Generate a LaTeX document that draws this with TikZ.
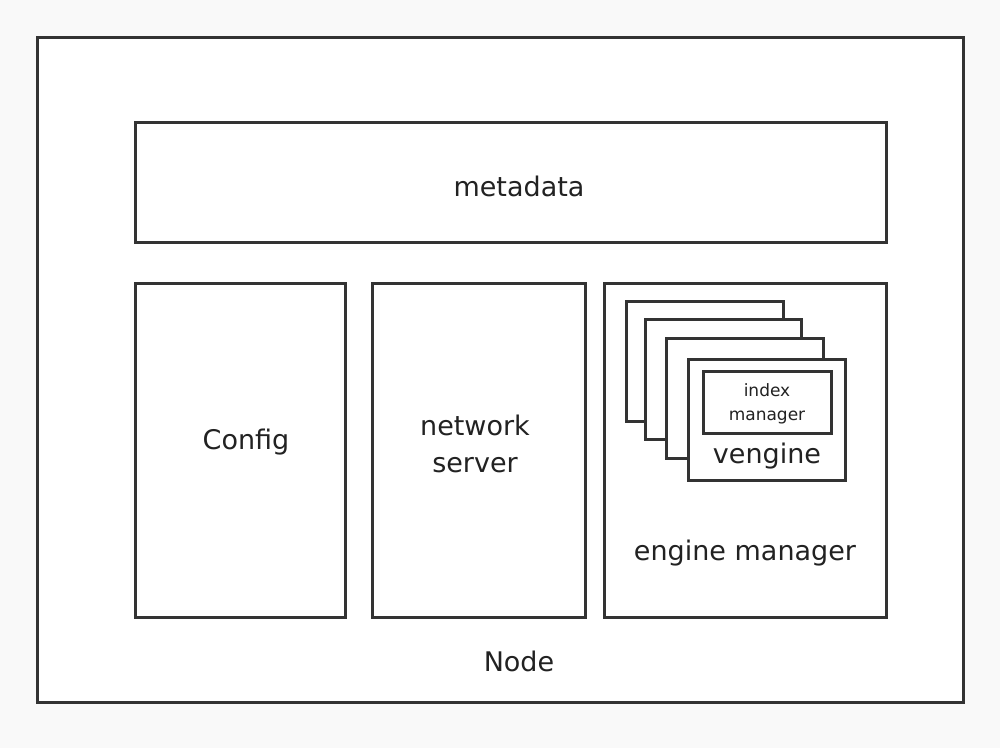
\documentclass[tikz,border=0pt]{standalone}
\usepackage{fontspec}
\setmainfont{DejaVu Sans}
\definecolor{bgc}{HTML}{F9F9F9}
\definecolor{ln}{HTML}{333333}
\definecolor{tx}{HTML}{222222}
\begin{document}
\begin{tikzpicture}[x=1pt,y=-1pt,
  box/.style={draw=ln,line width=3pt,fill=white},
  lbl/.style={text=tx,font=\fontsize{27}{37}\selectfont,align=center,inner sep=0pt},
  slbl/.style={text=tx,font=\fontsize{17}{24}\selectfont,align=center,inner sep=0pt}]
\fill[bgc] (0,0) rectangle (1000,748);
\useasboundingbox (0,0) rectangle (1000,748);
\draw[box] (37.5,37.5) rectangle (963,702);
\node[lbl] (nodelbl) at (519,661) {Node};
% metadata
\draw[box] (135.5,122) rectangle (886,242);
\node[lbl] (meta) at (519,186) {metadata};
% config
\draw[box] (135.5,283.5) rectangle (345,617);
\node[lbl] (config) at (246,442) {Config};
% network server
\draw[box] (372,283.5) rectangle (585,617);
\node[lbl] (net) at (475,444) {network\\server};
% engine manager
\draw[box] (604.5,283.5) rectangle (886,617);
\node[lbl] (engm) at (745,553) {engine manager};
% stacked vengines
\draw[box] (626.5,301) rectangle (783,421.5);
\draw[box] (645,319.5) rectangle (801.5,439);
\draw[box] (666.5,338.5) rectangle (823,458);
\draw[box] (688,359) rectangle (845,480);
\draw[box] (703,371) rectangle (831,433);
\node[slbl] (idx) at (767,404) {index\\manager};
\node[lbl] (veng) at (767,456) {vengine};
\end{tikzpicture}
\end{document}
